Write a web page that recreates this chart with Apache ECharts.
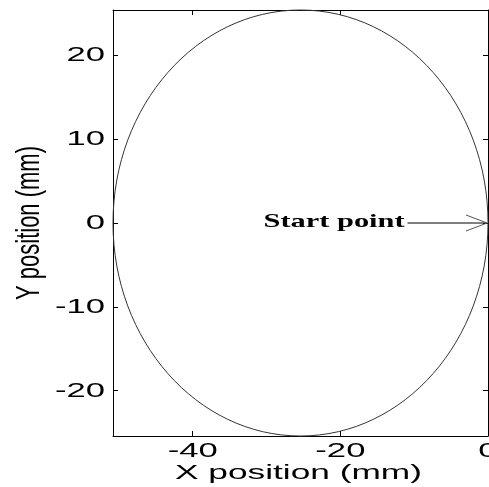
<!DOCTYPE html>
<html>
<head>
<meta charset="utf-8">
<script src="https://cdn.jsdelivr.net/npm/echarts@6/dist/echarts.min.js"></script>
<style>
  html, body { margin: 0; padding: 0; background: #fff; overflow: hidden; }
  #chart { width: 489px; height: 487px; }
</style>
</head>
<body>
<div id="chart"></div>
<script>
// ellipse: centre and semi-axes (mm)
var ellipseCenter = [-25.4, 0];
var ellipseRadii = [25.4, 25.4];
// arrow from label to start point
var arrowFrom = [-10.9, 0];
var arrowTo = [0, 0];
var labelText = 'Start point';
var labelAt = [-11.3, 0];

var xRange = [-50.8, 0];
var yRange = [-25.4, 25.4];
var xTicks = [-40, -20, 0];
var yTicks = [-20, -10, 0, 10, 20];
var xTitle = 'X position (mm)';
var yTitle = 'Y position (mm)';

// the reference text is stretched sideways
var sansFont = '21px "Liberation Sans", Arial, sans-serif';

var chart = echarts.init(document.getElementById('chart'));

function boxAxis(pos, isX, ticks) {
  return {
    type: 'value',
    position: pos,
    min: isX ? xRange[0] : yRange[0],
    max: isX ? xRange[1] : yRange[1],
    axisLine: { show: true, onZero: false, lineStyle: { color: '#000', width: 1 } },
    axisTick: { show: true, inside: true, length: 5, customValues: ticks, lineStyle: { color: '#000' } },
    axisLabel: { show: false },
    splitLine: { show: false }
  };
}

function wideText(str, x, y, align, font, k, rot) {
  var el = {
    type: 'text', x: x, y: y,
    style: { text: str, fill: '#000', font: font, align: align, verticalAlign: 'middle' }
  };
  if (rot) {
    el.rotation = rot;
    el.scaleY = k;
  } else {
    el.scaleX = k;
  }
  return el;
}

var option = {
  animation: false,
  grid: { left: 113, right: 1, top: 10, bottom: 51, containLabel: false },
  xAxis: [boxAxis('bottom', true, xTicks), boxAxis('top', true, xTicks)],
  yAxis: [boxAxis('left', false, yTicks), boxAxis('right', false, yTicks)],
  series: [
    {
      type: 'custom',
      coordinateSystem: 'cartesian2d',
      data: [[ellipseCenter[0], ellipseCenter[1], ellipseRadii[0], ellipseRadii[1]]],
      renderItem: function (params, api) {
        var c = api.coord([api.value(0), api.value(1)]);
        var e = api.coord([api.value(0) + api.value(2), api.value(1) + api.value(3)]);
        return {
          type: 'ellipse',
          shape: { cx: c[0], cy: c[1], rx: Math.abs(e[0] - c[0]), ry: Math.abs(e[1] - c[1]) },
          style: { fill: null, stroke: '#333', lineWidth: 1 }
        };
      }
    },
    {
      type: 'custom',
      coordinateSystem: 'cartesian2d',
      data: [[arrowFrom[0], arrowFrom[1], arrowTo[0], arrowTo[1], labelAt[0], labelAt[1]]],
      renderItem: function (params, api) {
        var a = api.coord([api.value(0), api.value(1)]);
        var b = api.coord([api.value(2), api.value(3)]);
        var t = api.coord([api.value(4), api.value(5)]);
        return {
          type: 'group',
          children: [
            { type: 'line', shape: { x1: a[0], y1: a[1], x2: b[0] - 1, y2: b[1] },
              style: { stroke: '#000', lineWidth: 1 } },
            { type: 'polyline', shape: { points: [[b[0] - 22, b[1] - 8], [b[0] - 1, b[1]], [b[0] - 22, b[1] + 8]] },
              style: { stroke: '#555', fill: null, lineWidth: 1 } },
            wideText(labelText, t[0], t[1] - 1, 'right', 'bold 19px "Liberation Serif", serif', 1.6)
          ]
        };
      }
    },
    {
      // x tick labels
      type: 'custom',
      coordinateSystem: 'cartesian2d',
      data: xTicks.map(function (v) { return [v, yRange[0]]; }),
      renderItem: function (params, api) {
        var p = api.coord([api.value(0), api.value(1)]);
        return wideText(String(api.value(0)), p[0], p[1] + 15, 'center', sansFont, 1.65);
      }
    },
    {
      // y tick labels
      type: 'custom',
      coordinateSystem: 'cartesian2d',
      data: yTicks.map(function (v) { return [xRange[0], v]; }),
      renderItem: function (params, api) {
        var p = api.coord([api.value(0), api.value(1)]);
        return wideText(String(api.value(1)), p[0] - 8, p[1], 'right', sansFont, 1.65);
      }
    },
    {
      // axis titles
      type: 'custom',
      coordinateSystem: 'cartesian2d',
      data: [[(xRange[0] + xRange[1]) / 2, (yRange[0] + yRange[1]) / 2]],
      renderItem: function (params, api) {
        var mid = api.coord([api.value(0), api.value(1)]);
        var lo = api.coord([xRange[0], yRange[0]]);
        return {
          type: 'group',
          children: [
            wideText(xTitle, mid[0] - 2, lo[1] + 37, 'center', sansFont, 1.68),
            wideText(yTitle, lo[0] - 83, mid[1], 'center', '22px "Liberation Sans", Arial, sans-serif', 1.5, Math.PI / 2)
          ]
        };
      }
    }
  ]
};

chart.setOption(option);
</script>
</body>
</html>
